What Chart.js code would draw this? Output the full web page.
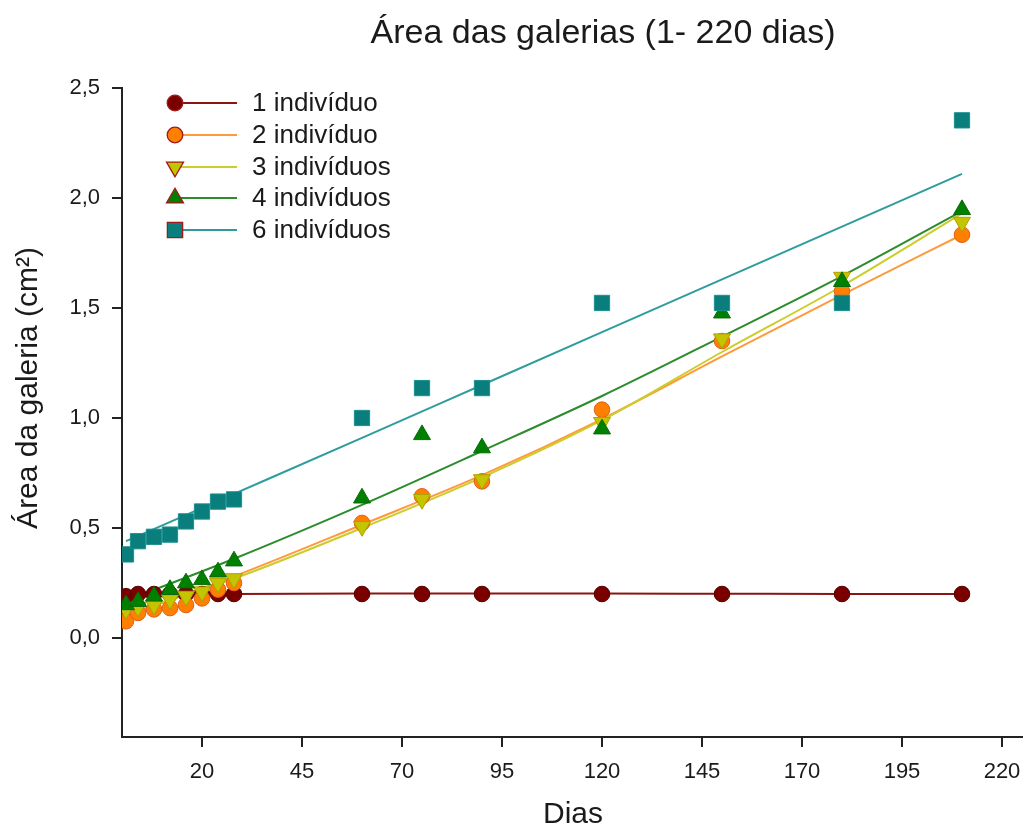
<!DOCTYPE html>
<html>
<head>
<meta charset="utf-8">
<script src="https://cdn.jsdelivr.net/npm/chart.js@4.4.1/dist/chart.umd.min.js"></script>
<style>
  html, body { margin: 0; padding: 0; background: #ffffff; }
  #wrap { width: 1027px; height: 830px; position: relative; }
</style>
</head>
<body>
<div id="wrap"><canvas id="c" width="1027" height="830"></canvas></div>
<script>
// ---- Data ----
const chartTitle = 'Área das galerias (1- 220 dias)';
const xTitle = 'Dias';
const yTitle = 'Área da galeria (cm²)';

const seriesNames = ['1 indivíduo', '2 indivíduo', '3 indivíduos', '4 indivíduos', '6 indivíduos'];

const days = [1, 4, 8, 12, 16, 20, 24, 28, 60, 75, 90, 120, 150, 180, 210];
const area1 = [0.19, 0.20, 0.20, 0.20, 0.20, 0.20, 0.20, 0.20, 0.20, 0.20, 0.20, 0.20, 0.20, 0.20, 0.20];
const area2 = [0.076, 0.114, 0.13, 0.136, 0.15, 0.18, 0.22, 0.25, 0.523, 0.644, 0.712, 1.038, 1.35, 1.576, 1.833];
const area3 = [0.13, 0.14, 0.15, 0.174, 0.19, 0.21, 0.25, 0.27, 0.507, 0.63, 0.72, 0.98, 1.36, 1.64, 1.89];
const area4 = [0.151, 0.166, 0.19, 0.22, 0.25, 0.265, 0.30, 0.35, 0.636, 0.924, 0.864, 0.95, 1.477, 1.62, 1.947];
const area6 = [0.38, 0.44, 0.46, 0.47, 0.53, 0.575, 0.62, 0.63, 1.0, 1.136, 1.136, 1.523, 1.523, 1.523, 2.353];

// fitted curves, read at these days
const fitDays = [1, 28, 60, 90, 120, 150, 180, 210];
const fit1 = [0.185, 0.20, 0.202, 0.202, 0.202, 0.201, 0.20, 0.20];
const fit2 = [0.10, 0.28, 0.515, 0.74, 0.995, 1.28, 1.56, 1.833];
const fit3 = [0.11, 0.27, 0.50, 0.73, 0.99, 1.30, 1.60, 1.93];
const fit4 = [0.17, 0.36, 0.605, 0.85, 1.10, 1.37, 1.645, 1.94];
const fit6 = [0.44, 0.655, 0.91, 1.15, 1.39, 1.63, 1.87, 2.11];

const xTicks = [20, 45, 70, 95, 120, 145, 170, 195, 220];
const yTicks = [0, 0.5, 1.0, 1.5, 2.0, 2.5];
const yTickLabels = ['0,0', '0,5', '1,0', '1,5', '2,0', '2,5'];

// ---- styles ----
const FONT = '"Liberation Sans", Arial, Helvetica, sans-serif';
const TXT = '#1a1a1a';
const styles = [
  { fill: '#7a0000', border: '#5a0000', line: '#8b1515', shape: 'circle', r: 7.8, rot: 0 },
  { fill: '#ff8000', border: '#e0601a', line: '#ff9a3c', shape: 'circle', r: 7.8, rot: 0 },
  { fill: '#c4c400', border: '#b0a000', line: '#cccc2a', shape: 'triangle', r: 9.8, rot: 180 },
  { fill: '#008000', border: '#0a6a0a', line: '#2c8c2c', shape: 'triangle', r: 9.8, rot: 0 },
  { fill: '#0a7d7d', border: '#1b8f8f', line: '#2e9c9c', shape: 'rect', r: 10.8, rot: 0 }
];
const areas = [area1, area2, area3, area4, area6];
const fits = [fit1, fit2, fit3, fit4, fit6];

const toXY = (xs, ys) => xs.map((x, i) => ({ x: x, y: ys[i] }));

const datasets = [];
// fitted lines (below markers)
fits.forEach((f, i) => {
  datasets.push({
    type: 'line',
    label: seriesNames[i] + ' fit',
    data: toXY(fitDays, f),
    borderColor: styles[i].line,
    borderWidth: 2,
    pointRadius: 0,
    fill: false,
    cubicInterpolationMode: 'monotone',
    order: 20 + (4 - i)
  });
});
// markers
areas.forEach((a, i) => {
  const s = styles[i];
  datasets.push({
    type: 'scatter',
    label: seriesNames[i],
    data: toXY(days, a),
    showLine: false,
    backgroundColor: s.fill,
    borderColor: s.border,
    borderWidth: 1,
    pointStyle: s.shape,
    pointRadius: s.r,
    pointRotation: s.rot,
    pointHoverRadius: s.r,
    order: 4 - i
  });
});

// custom text + legend plugin
const decor = {
  id: 'decor',
  afterDraw(chart) {
    const ctx = chart.ctx;
    ctx.save();
    ctx.fillStyle = TXT;
    // title
    ctx.font = '34px ' + FONT;
    ctx.textAlign = 'center';
    ctx.textBaseline = 'middle';
    ctx.fillText(chartTitle, 603, 34);
    // x title
    ctx.font = '30px ' + FONT;
    ctx.fillText(xTitle, 573, 815);
    // y title
    ctx.save();
    ctx.translate(29, 388);
    ctx.rotate(-Math.PI / 2);
    ctx.fillText(yTitle, 0, 0);
    ctx.restore();
    // legend
    const rows = [103, 135, 167, 198, 230];
    ctx.textAlign = 'left';
    ctx.font = '26px ' + FONT;
    seriesNames.forEach((name, i) => {
      const s = styles[i];
      const y = rows[i];
      ctx.strokeStyle = s.line;
      ctx.lineWidth = 2;
      ctx.beginPath();
      ctx.moveTo(178, y);
      ctx.lineTo(237, y);
      ctx.stroke();
      ctx.fillStyle = s.fill;
      ctx.strokeStyle = '#a01a1a';
      ctx.lineWidth = 1.3;
      Chart.helpers.drawPoint(ctx, { pointStyle: s.shape, radius: s.r, rotation: s.rot, borderWidth: 1.3 }, 175, y);
      ctx.fillStyle = TXT;
      ctx.fillText(name, 252, y + 1);
    });
    ctx.restore();
  }
};

new Chart(document.getElementById('c'), {
  type: 'scatter',
  data: { datasets: datasets },
  options: {
    responsive: false,
    animation: false,
    layout: { autoPadding: false, padding: { left: 0, right: 5, top: 88, bottom: 0 } },
    plugins: {
      legend: { display: false },
      title: { display: false },
      tooltip: { enabled: false }
    },
    scales: {
      x: {
        type: 'linear',
        min: 0,
        max: 225,
        afterBuildTicks: (scale) => { scale.ticks = xTicks.map(v => ({ value: v })); },
        afterFit: (scale) => { scale.height = 93; scale.paddingLeft = 0; scale.paddingRight = 0; },
        grid: { display: true, drawOnChartArea: false, drawTicks: true, tickLength: 10, color: '#222', lineWidth: 2 },
        border: { display: true, color: '#222', width: 2 },
        ticks: { color: TXT, font: { family: FONT, size: 22 }, padding: 12, maxRotation: 0, autoSkip: false,
                 callback: (v) => String(v) }
      },
      y: {
        type: 'linear',
        min: -0.45,
        max: 2.5,
        afterBuildTicks: (scale) => { scale.ticks = yTicks.map(v => ({ value: v })); },
        afterFit: (scale) => { scale.width = 122; scale.paddingTop = 0; scale.paddingBottom = 0; },
        grid: { display: true, drawOnChartArea: false, drawTicks: true, tickLength: 10, color: '#222', lineWidth: 2 },
        border: { display: true, color: '#222', width: 2 },
        ticks: { color: TXT, font: { family: FONT, size: 22 }, padding: 12, autoSkip: false,
                 callback: (v) => { const k = yTicks.indexOf(v); return k >= 0 ? yTickLabels[k] : ''; } }
      }
    }
  },
  plugins: [decor]
});
</script>
</body>
</html>
